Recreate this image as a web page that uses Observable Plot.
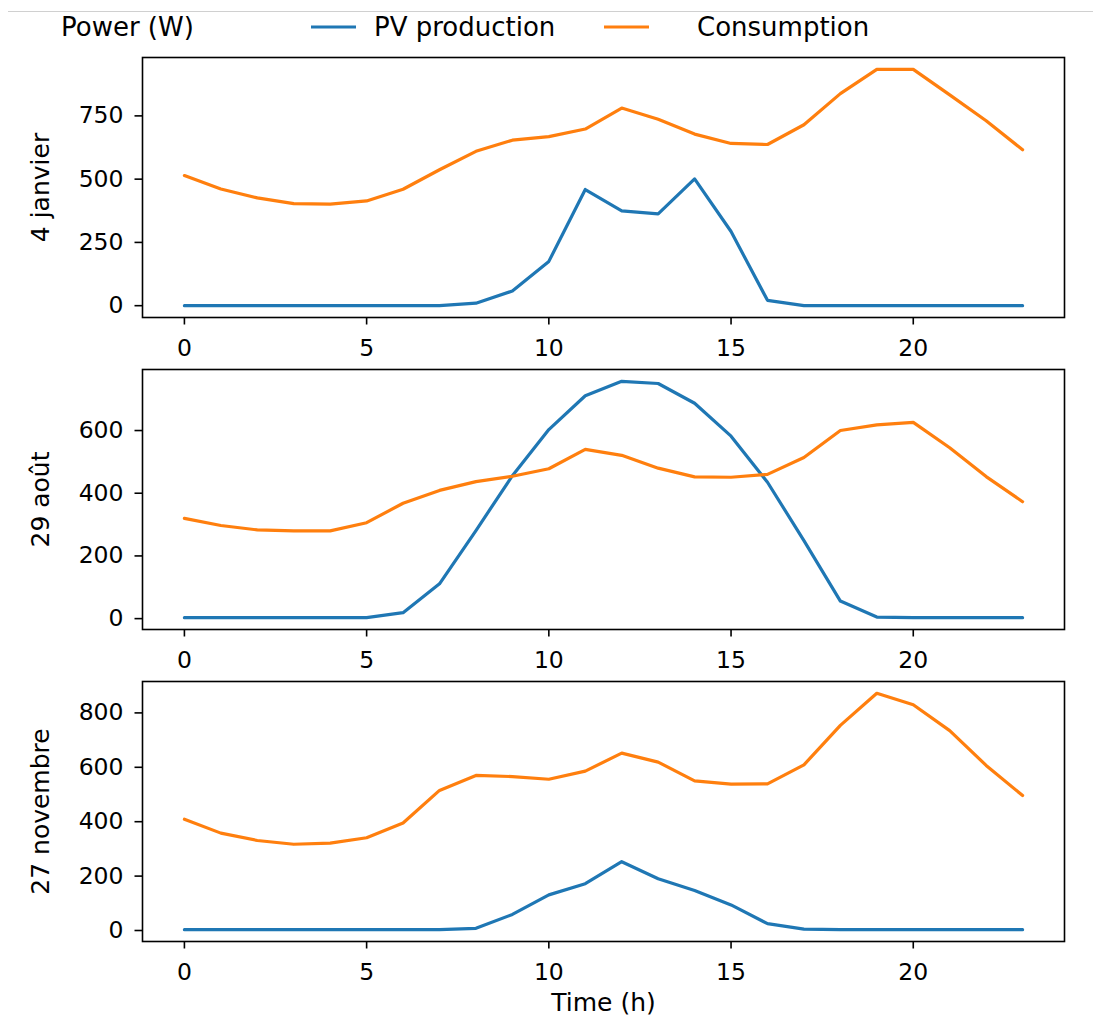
<!DOCTYPE html>
<html><head><meta charset="utf-8">
<script src="https://cdn.jsdelivr.net/npm/d3@7"></script>
<script src="https://cdn.jsdelivr.net/npm/@observablehq/plot@0.6"></script>
<style>
body{margin:0;background:#fff;font-family:"DejaVu Sans";}
#chart{position:relative;width:1093px;height:1016px;overflow:hidden;background:#fff;}
#chart > svg{position:absolute;left:0;}
</style></head><body><div id="chart"></div>
<script>
// ---- data ----
const hours = [0,1,2,3,4,5,6,7,8,9,10,11,12,13,14,15,16,17,18,19,20,21,22,23];
const xTicks = [0,5,10,15,20];
const panelLabels = ["4 janvier", "29 août", "27 novembre"];
const seriesNames = ["PV production", "Consumption"];
const seriesColors = ["#1f77b4", "#ff7f0e"];
const legendTitle = "Power (W)";
const xLabel = "Time (h)";

const pvJan   = [0,0,0,0,0,0,0,0,10,58,175,459,375,363,501,293,21,0,0,0,0,0,0,0];
const consJan = [514,461,426,403,401,414,460,537,610,654,668,698,781,737,678,641,637,715,838,934,934,833,731,616];
const pvAug   = [3,3,3,3,3,3,19,111,281,456,603,711,757,750,687,582,435,249,56,5,3,3,3,3];
const consAug = [320,297,283,280,280,306,368,409,437,454,478,540,521,480,452,451,460,514,600,618,626,545,453,373];
const pvNov   = [3,3,3,3,3,3,3,3,8,59,131,172,253,190,147,94,25,5,3,3,3,3,3,3];
const consNov = [409,358,331,317,321,341,395,515,570,566,556,586,652,619,550,538,539,609,754,872,830,735,607,496];

const yTicksJan = [0,250,500,750];
const yTicksAug = [0,200,400,600];
const yTicksNov = [0,200,400,600,800];

// ---- layout ----
const W = 1093, H = 1016;
const chart = document.getElementById("chart");
const frameTops = [56.5, 369, 681];
const frameH = 260;

const panels = [
  {label: panelLabels[0], pv: pvJan, cons: consJan, ticks: yTicksJan},
  {label: panelLabels[1], pv: pvAug, cons: consAug, ticks: yTicksAug},
  {label: panelLabels[2], pv: pvNov, cons: consNov, ticks: yTicksNov}
];

panels.forEach((p, i) => {
  const last = i === panels.length - 1;
  const all = p.pv.concat(p.cons);
  const lo = d3.min(all), hi = d3.max(all), pad = (hi - lo) * 0.05;
  const xlo = d3.min(hours), xhi = d3.max(hours), xpad = (xhi - xlo) * 0.05;
  const rows = [];
  hours.forEach((h, j) => rows.push({h, v: p.pv[j], s: seriesNames[0]}));
  hours.forEach((h, j) => rows.push({h, v: p.cons[j], s: seriesNames[1]}));
  const mt = 5;
  const mb = last ? H - (frameTops[i] + frameH) : 45;
  const svg = Plot.plot({
    width: W, height: mt + frameH + mb,
    marginTop: mt, marginBottom: mb, marginLeft: 142, marginRight: 29,
    style: {fontFamily: "DejaVu Sans", fontSize: "23.5px", background: "transparent", overflow: "visible", color: "#000"},
    x: {domain: [xlo - xpad, xhi + xpad]},
    y: {domain: [lo - pad, hi + pad]},
    color: {domain: seriesNames, range: seriesColors},
    marks: [
      Plot.line(rows, {x: "h", y: "v", stroke: "s", z: "s", strokeWidth: 3.2}),
      Plot.frame({stroke: "#000", strokeWidth: 1.6}),
      Plot.axisX({ticks: xTicks, tickSize: 7.5, tickPadding: 14.3, strokeWidth: 1.6, label: null, tickFormat: d => String(d)}),
      Plot.axisY({ticks: p.ticks, tickSize: 7.5, tickPadding: 11.5, strokeWidth: 1.6, label: null, tickFormat: d => String(d)}),
      Plot.axisY({ticks: [], tickSize: 0, label: p.label, labelAnchor: "center", labelOffset: 111, labelArrow: "none", fontSize: 25}),
      last ? Plot.axisX({ticks: [], tickSize: 0, label: xLabel, labelAnchor: "center", labelOffset: 69, labelArrow: "none", fontSize: 25}) : null
    ]
  });
  svg.style.top = (frameTops[i] - mt) + "px";
  chart.appendChild(svg);
});

// ---- legend (above the plots) ----
const leg = d3.create("svg").attr("width", W).attr("height", 50)
  .style("position", "absolute").style("top", "0px").style("left", "0px")
  .style("font-family", "DejaVu Sans").style("font-size", "26px");
leg.append("line").attr("x1", 8).attr("x2", W).attr("y1", 11.5).attr("y2", 11.5)
  .attr("stroke", "#d0d0d0").attr("stroke-width", 1.2);
leg.append("text").attr("x", 61).attr("y", 36).attr("fill", "#000").text(legendTitle);
const swX = [311, 604], txtX = [374, 697];
seriesNames.forEach((s, k) => {
  leg.append("line").attr("x1", swX[k]).attr("x2", swX[k] + 45).attr("y1", 27).attr("y2", 27)
    .attr("stroke", seriesColors[k]).attr("stroke-width", 3.2);
  leg.append("text").attr("x", txtX[k]).attr("y", 36).attr("fill", "#000").text(s);
});
chart.appendChild(leg.node());
</script></body></html>
